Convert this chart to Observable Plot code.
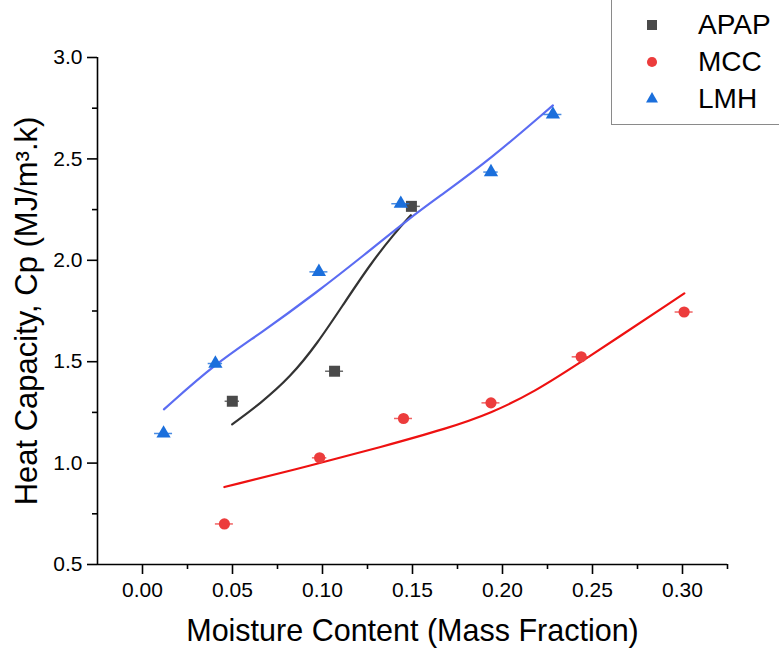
<!DOCTYPE html>
<html><head><meta charset="utf-8">
<script src="https://cdn.jsdelivr.net/npm/d3@7"></script>
<script src="https://cdn.jsdelivr.net/npm/@observablehq/plot@0.6"></script>
<style>
html,body{margin:0;padding:0;background:#fff;overflow:hidden;}
#wrap{position:relative;width:779px;height:650px;overflow:hidden;font-family:"Liberation Sans",Arial,sans-serif;}
#legend{position:absolute;left:611px;top:-10px;width:200px;height:135px;border:1px solid #8a8a8a;background:#fff;box-sizing:border-box;}
#legend svg{position:absolute;left:0;top:0;}
</style></head><body><div id="wrap"></div>
<script>
// ---- series meta ----
const seriesNames = ["APAP", "MCC", "LMH"];
const markerColors = ["#4a4a4a", "#ec3c3c", "#1b6fdc"];
const fitColors = ["#333333", "#ee1111", "#5b6cf2"];
const markerSymbols = ["square", "circle", "triangle"];

// ---- measured points (x = moisture mass fraction, y = Cp) ----
const apapX = [0.0499, 0.1067, 0.1494];
const apapY = [1.305, 1.453, 2.266];
const apapErr = [0.004, 0.005, 0.005];

const mccX = [0.0455, 0.0984, 0.1450, 0.1936, 0.2437, 0.3009];
const mccY = [0.700, 1.026, 1.220, 1.297, 1.524, 1.745];
const mccErr = [0.005, 0.004, 0.005, 0.005, 0.005, 0.005];

const lmhX = [0.0117, 0.0405, 0.0980, 0.1435, 0.1936, 0.2280];
const lmhY = [1.146, 1.491, 1.943, 2.279, 2.435, 2.719];
const lmhErr = [0.005, 0.004, 0.005, 0.005, 0.004, 0.005];

// ---- fitted curves ----
const apapFitX = [0.0498, 0.0655, 0.0822, 0.0971, 0.1119, 0.1268, 0.1398, 0.1491];
const apapFitY = [1.191, 1.294, 1.425, 1.589, 1.787, 1.984, 2.131, 2.222];

const mccFitX = [0.0455, 0.0945, 0.1323, 0.1697, 0.1936, 0.2175, 0.2437, 0.3010];
const mccFitY = [0.882, 0.990, 1.079, 1.172, 1.246, 1.350, 1.498, 1.837];

const lmhFitX = [0.0119, 0.0405, 0.0655, 0.0971, 0.1230, 0.1491, 0.1658, 0.1936, 0.2280];
const lmhFitY = [1.265, 1.491, 1.639, 1.844, 2.025, 2.213, 2.320, 2.501, 2.764];

// ---- axes ----
const xDomain = [-0.025, 0.325];
const yDomain = [0.5, 3.0];
const xTicks = [0, 0.05, 0.10, 0.15, 0.20, 0.25, 0.30];
const xTickLabels = ["0.00", "0.05", "0.10", "0.15", "0.20", "0.25", "0.30"];
const xMinorTicks = [0.025, 0.075, 0.125, 0.175, 0.225, 0.275, 0.325];
const yTicks = [0.5, 1.0, 1.5, 2.0, 2.5, 3.0];
const yTickLabels = ["0.5", "1.0", "1.5", "2.0", "2.5", "3.0"];
const yMinorTicks = [0.75, 1.25, 1.75, 2.25, 2.75];
const xLabel = "Moisture Content (Mass Fraction)";
const yLabel = "Heat Capacity, Cp (MJ/m\u00B3.k)";

const zip = (xs, ys, es) => xs.map((x, i) => ({x, y: ys[i], e: es ? es[i] : 0}));
const pts = [zip(apapX, apapY, apapErr), zip(mccX, mccY, mccErr), zip(lmhX, lmhY, lmhErr)];
const fits = [zip(apapFitX, apapFitY), zip(mccFitX, mccFitY), zip(lmhFitX, lmhFitY)];
const radii = [6.2, 5.6, 5.3];

const marks = [];
// axis lines
marks.push(Plot.ruleY([yDomain[0]], {stroke: "#000", strokeWidth: 1.6}));
marks.push(Plot.ruleX([xDomain[0]], {stroke: "#000", strokeWidth: 1.6}));
// ticks
marks.push(Plot.axisX({ticks: xTicks, tickSize: 10, tickPadding: 8, fontSize: 21, strokeWidth: 1.6,
  tickFormat: d => xTickLabels[xTicks.findIndex(t => Math.abs(t - d) < 1e-9)], label: null}));
marks.push(Plot.axisX({ticks: xMinorTicks, tickSize: 5, strokeWidth: 1.6, tickFormat: () => "", label: null}));
marks.push(Plot.axisY({ticks: yTicks, tickSize: 10, tickPadding: 5, fontSize: 21, strokeWidth: 1.6,
  tickFormat: d => yTickLabels[yTicks.findIndex(t => Math.abs(t - d) < 1e-9)], label: null}));
marks.push(Plot.axisY({ticks: yMinorTicks, tickSize: 5, strokeWidth: 1.6, tickFormat: () => "", label: null}));
// axis titles
marks.push(Plot.text([xLabel], {text: d => d, frameAnchor: "bottom", textAnchor: "middle", lineAnchor: "middle", dy: 67, fontSize: 30.5, fill: "#000"}));
marks.push(Plot.text([yLabel], {text: d => d, frameAnchor: "left", textAnchor: "middle", lineAnchor: "middle", dx: -70, rotate: -90, fontSize: 31, fill: "#000"}));

// fit curves
for (let i = 0; i < 3; i++) {
  marks.push(Plot.line(fits[i], {x: "x", y: "y", stroke: fitColors[i], strokeWidth: 2.2, curve: "basis"}));
}
// error bars + markers
for (let i = 0; i < 3; i++) {
  marks.push(Plot.ruleY(pts[i], {y: "y", x1: d => d.x - d.e, x2: d => d.x + d.e, stroke: markerColors[i], strokeWidth: 1.5, strokeOpacity: 0.8}));
  marks.push(Plot.dot(pts[i], {x: "x", y: "y", symbol: () => markerSymbols[i], r: radii[i], fill: markerColors[i], stroke: "none"}));
}

const chart = Plot.plot({
  width: 779, height: 650,
  marginLeft: 97, marginRight: 52, marginTop: 57, marginBottom: 86,
  x: {domain: xDomain, axis: null},
  y: {domain: yDomain, axis: null},
  symbol: {type: "identity"},
  style: {fontFamily: "'Liberation Sans', Arial, sans-serif", fontSize: "21px", color: "#000", background: "#fff"},
  marks
});
const wrap = document.getElementById("wrap");
wrap.appendChild(chart);

// ---- legend ----
const leg = document.createElement("div");
leg.id = "legend";
wrap.appendChild(leg);
const lsvg = d3.select(leg).append("svg").attr("width", 200).attr("height", 133);
const symMap = {square: d3.symbolSquare, circle: d3.symbolCircle, triangle: d3.symbolTriangle};
const symSize = {square: 100, circle: 80, triangle: 62};
seriesNames.forEach((name, i) => {
  const cy = 33 + i * 37;
  lsvg.append("path")
    .attr("d", d3.symbol(symMap[markerSymbols[i]], symSize[markerSymbols[i]])())
    .attr("transform", `translate(40,${cy + 1})`)
    .attr("fill", markerColors[i]);
  lsvg.append("text")
    .attr("x", 86).attr("y", cy + 10)
    .attr("font-size", 28)
    .attr("font-family", "'Liberation Sans', Arial, sans-serif")
    .attr("fill", "#000")
    .text(name);
});
</script></body></html>
